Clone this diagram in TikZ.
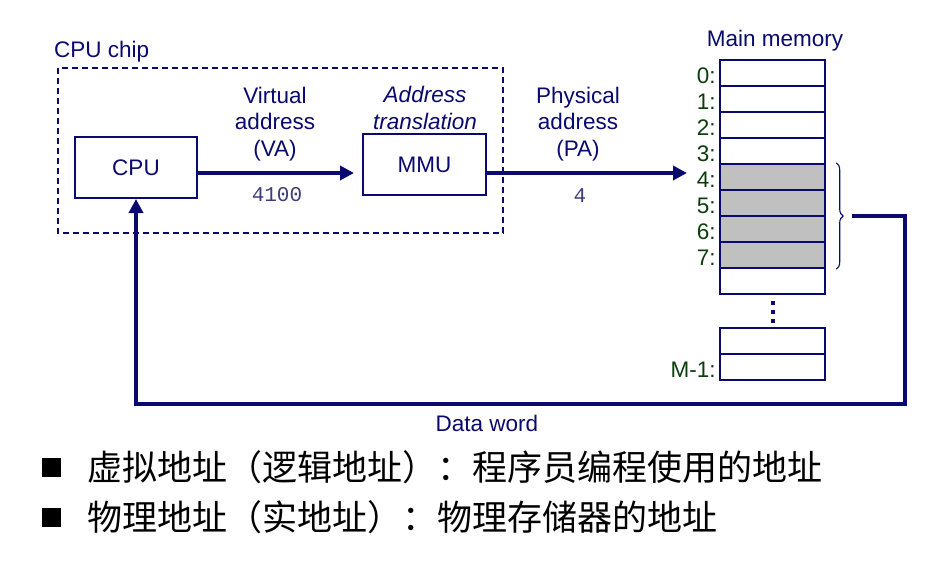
\documentclass[tikz,border=0pt]{standalone}
\usepackage{fontspec}
\setmainfont{Liberation Sans}
\setmonofont{Liberation Mono}
\newfontfamily\cjk{Noto Sans CJK SC}
\usetikzlibrary{arrows.meta,decorations.pathreplacing}
\definecolor{navy}{RGB}{10,10,110}
\definecolor{memgreen}{RGB}{12,62,12}
\definecolor{cellgrey}{RGB}{192,192,192}
\definecolor{numcol}{RGB}{60,60,120}
\begin{document}
\begin{tikzpicture}[x=1pt,y=-1pt,
  every node/.style={font=\fontsize{22.5}{26.5}\selectfont, text=navy},
  box/.style={draw=navy, line width=2pt, minimum width=122pt, minimum height=61pt, inner sep=0pt},
  cell/.style={draw=navy, line width=2.4pt, minimum width=105pt, minimum height=26pt, inner sep=0pt, fill=white},
  graycell/.style={cell, fill=cellgrey},
  memlab/.style={text=memgreen, anchor=east, inner sep=0pt},
  arr/.style={draw=navy, line width=4.5pt, line join=miter, -{Triangle[length=14pt,width=14pt]}},
  bullet/.style={fill=black, minimum size=19pt, inner sep=0pt},
  cjktext/.style={anchor=west, text=black, inner sep=0pt, font=\cjk\fontsize{35}{40}\selectfont},
  numtext/.style={inner sep=0pt, text=numcol, font=\ttfamily\fontsize{21}{24}\selectfont}
]
\useasboundingbox[fill=white] (0,0) rectangle (939,568);

% CPU chip
\node[anchor=west, inner sep=0pt] (chiplab) at (54,52) {CPU chip};
\draw[navy, line width=1.4pt, dash pattern=on 6pt off 4pt] (58,68) rectangle (503,233);

\node[box] (cpu) at (136,167.5) {CPU};
\node[box, minimum width=123pt] (mmu) at (424.5,164.5) {MMU};

\node[align=center, inner sep=0pt] (valab) at (275,124) {Virtual\\address\\(VA)};
\node[numtext] (vanum) at (277,195) {4100};
\node[align=center, inner sep=0pt, font=\itshape\fontsize{22.5}{26.5}\selectfont] (atlab) at (425,108) {Address\\translation};
\node[align=center, inner sep=0pt] (palab) at (578,124) {Physical\\address\\(PA)};
\node[numtext] (panum) at (580,196) {4};

\coordinate (va) at (354,173);
\coordinate (pa) at (687,173);
\draw[arr] (cpu.east |- va) -- (va);
\draw[arr] (mmu.east |- pa) -- (pa);

% memory
\node[inner sep=0pt] (mmlab) at (775,41) {Main memory};
\node[cell] (m0) at (772.5,73) {};
\node[cell] (m1) at (772.5,99) {};
\node[cell] (m2) at (772.5,125) {};
\node[cell] (m3) at (772.5,151) {};
\node[graycell] (m4) at (772.5,177) {};
\node[graycell] (m5) at (772.5,203) {};
\node[graycell] (m6) at (772.5,229) {};
\node[graycell] (m7) at (772.5,255) {};
\node[cell] (m8) at (772.5,281) {};
\node[cell] (ma) at (772.5,341) {};
\node[cell] (mb) at (772.5,367) {};

\node[memlab] (l0) at ([xshift=-3pt,yshift=-3pt]m0.west) {0:};
\node[memlab] (l1) at ([xshift=-3pt,yshift=-3pt]m1.west) {1:};
\node[memlab] (l2) at ([xshift=-3pt,yshift=-3pt]m2.west) {2:};
\node[memlab] (l3) at ([xshift=-3pt,yshift=-3pt]m3.west) {3:};
\node[memlab] (l4) at ([xshift=-3pt,yshift=-3pt]m4.west) {4:};
\node[memlab] (l5) at ([xshift=-3pt,yshift=-3pt]m5.west) {5:};
\node[memlab] (l6) at ([xshift=-3pt,yshift=-3pt]m6.west) {6:};
\node[memlab] (l7) at ([xshift=-3pt,yshift=-3pt]m7.west) {7:};
\node[memlab] (lm) at ([xshift=-3pt,yshift=-3pt]mb.west) {M-1:};

\fill[navy] (771,301) rectangle (775,305);
\fill[navy] (771,310) rectangle (775,314);
\fill[navy] (771,319) rectangle (775,323);

\draw[navy, line width=1.1pt, decorate, decoration={brace, amplitude=7pt}]
  ([xshift=10pt]m4.north east) -- ([xshift=10pt]m7.south east);

\coordinate (dw1) at (852,216);
\coordinate (dw2) at (905,404);
\draw[arr] (dw1) -| (dw2) -| (cpu.south);
\node[inner sep=0pt] (dwlab) at (487,423) {Data word};

% bullets
\node[bullet] (b1) at (51,467) {};
\node[cjktext] (t1) at (87,467) {虚拟地址（逻辑地址）：程序员编程使用的地址};
\node[bullet] (b2) at (51,517) {};
\node[cjktext] (t2) at (87,517) {物理地址（实地址）：物理存储器的地址};
\end{tikzpicture}
\end{document}
